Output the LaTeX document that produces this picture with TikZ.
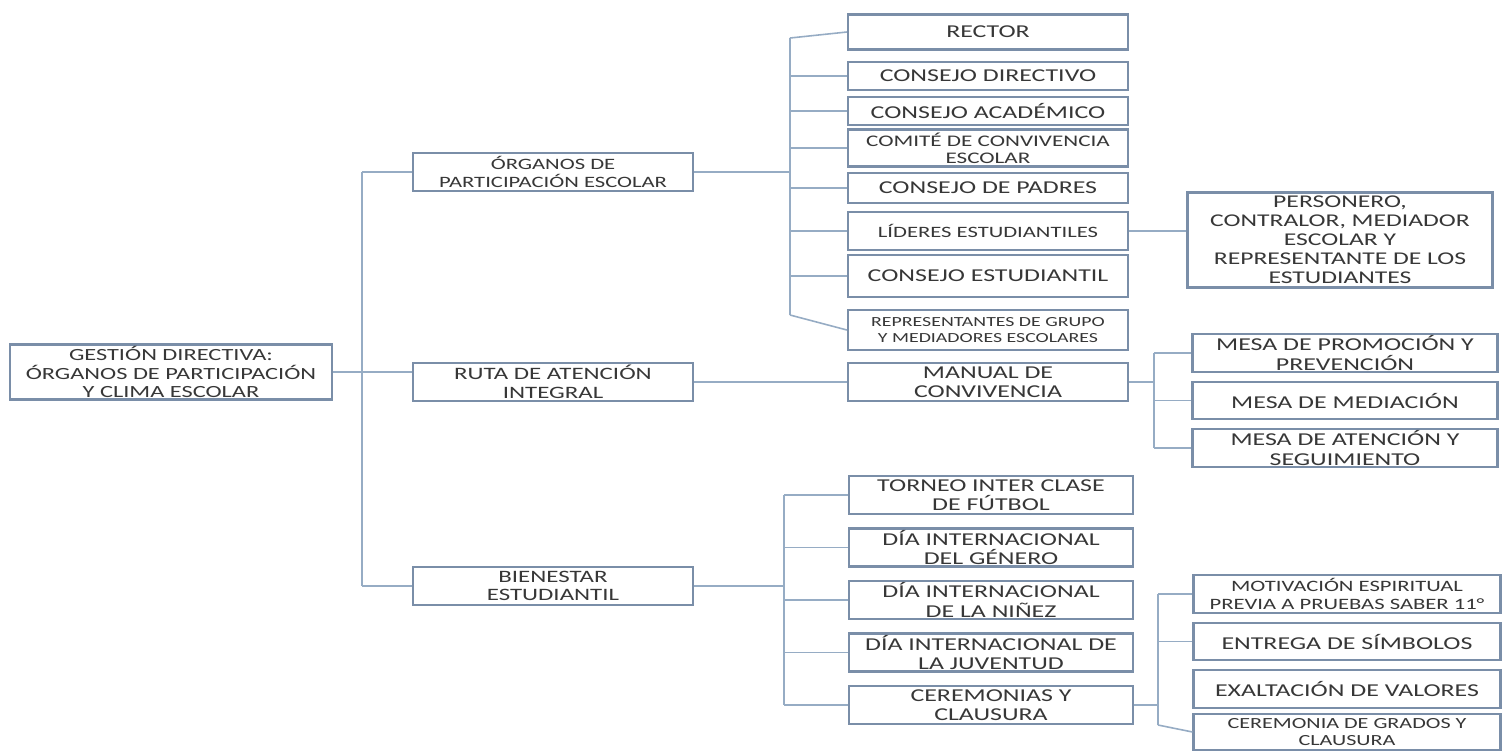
\documentclass[tikz,border=0pt]{standalone}
\usepackage{fontspec}
\setmainfont{Carlito}[FakeStretch=1.43]
\usepackage{tikz}
\definecolor{boxline}{RGB}{122,142,168}
\definecolor{linkline}{RGB}{150,172,196}
\definecolor{boxtext}{RGB}{55,55,55}

\begin{document}
\begin{tikzpicture}[x=0.02cm, y=-0.02cm,
		box/.style={draw=boxline, line width=1.3pt, fill=white, text=boxtext,
		align=center, inner sep=1pt, font=\fontsize{10.3}{11}\selectfont},
		midbox/.style={box, minimum width=5.6cm, minimum height=0.76cm},
		widebox/.style={box, minimum width=6.1cm, minimum height=0.75cm},
		smallfont/.style={font=\fontsize{9}{10}\selectfont},
		tinyfont/.style={font=\fontsize{7.9}{8.8}\selectfont},
		link/.style={draw=linkline, line width=0.9pt}
		]
		\useasboundingbox[fill=white] (0,0) rectangle (1506,752);

		% root and first level
		\node[box, minimum width=6.44cm, minimum height=1.1cm,
		font=\fontsize{9.7}{10.3}\selectfont](root) at (171,372)
		{GESTIÓN DIRECTIVA:\\ÓRGANOS DE PARTICIPACIÓN\\Y CLIMA ESCOLAR};
		\node[midbox, smallfont](org) at (553,172) {ÓRGANOS DE\\PARTICIPACIÓN ESCOLAR};
		\node[midbox, font=\fontsize{9.9}{10.6}\selectfont](ruta) at (553,382) {RUTA DE ATENCIÓN\\INTEGRAL};
		\node[midbox, font=\fontsize{9.9}{10.6}\selectfont](bien) at (553,586) {BIENESTAR\\ESTUDIANTIL};

		% organos
		\node[midbox, minimum height=0.7cm](rector) at (988,32) {RECTOR};
		\node[midbox, minimum height=0.56cm](directivo) at (988,76) {CONSEJO DIRECTIVO};
		\node[midbox, minimum height=0.56cm](academico) at (988,111) {CONSEJO ACADÉMICO};
		\node[midbox, minimum height=0.74cm, font=\fontsize{9.2}{9.6}\selectfont](comite) at (988,148)
		{COMITÉ DE CONVIVENCIA\\ESCOLAR};
		\node[midbox, minimum height=0.6cm](padres) at (988,188) {CONSEJO DE PADRES};
		\node[midbox, smallfont](lideres) at (988,231) {LÍDERES ESTUDIANTILES};
		\node[midbox, minimum height=0.84cm](estudiantil) at (988,276) {CONSEJO ESTUDIANTIL};
		\node[midbox, minimum height=0.8cm, tinyfont](repr) at (988,330)
		{REPRESENTANTES DE GRUPO\\Y MEDIADORES ESCOLARES};
		\node[widebox, minimum height=1.9cm, font=\fontsize{10.2}{10.8}\selectfont](personero) at (1340,240)
		{PERSONERO,\\CONTRALOR, MEDIADOR\\ESCOLAR Y\\REPRESENTANTE DE LOS\\ESTUDIANTES};

		% ruta
		\node[midbox](manual) at (988,382) {MANUAL DE\\CONVIVENCIA};
		\node[widebox, node distance=0.95cm](mesa1) at (1345,353) {MESA DE PROMOCIÓN Y\\PREVENCIÓN};
		\node[widebox, node distance=0.95cm, below of = mesa1](mesa2) {MESA DE MEDIACIÓN};
		\node[widebox, node distance=0.95cm, below of = mesa2](mesa3) {MESA DE ATENCIÓN Y\\SEGUIMIENTO};

		% bienestar
		\node[midbox, minimum width=5.68cm](torneo) at (991,495) {TORNEO INTER CLASE\\DE FÚTBOL};
		\node[midbox, minimum width=5.68cm, node distance=1.05cm, below of = torneo](genero)
		{DÍA INTERNACIONAL\\DEL GÉNERO};
		\node[midbox, minimum width=5.68cm, node distance=1.05cm, below of = genero](ninez)
		{DÍA INTERNACIONAL\\DE LA NIÑEZ};
		\node[midbox, minimum width=5.68cm, node distance=1.05cm, below of = ninez](juventud)
		{DÍA INTERNACIONAL DE\\LA JUVENTUD};
		\node[midbox, minimum width=5.68cm, node distance=1.05cm, below of = juventud](cerem)
		{CEREMONIAS Y\\CLAUSURA};
		\node[widebox, minimum width=6.14cm, smallfont](motiv) at (1347,594)
		{MOTIVACIÓN ESPIRITUAL\\PREVIA A PRUEBAS SABER 11°};
		\node[widebox, minimum width=6.14cm, node distance=0.95cm, below of = motiv](entrega)
		{ENTREGA DE SÍMBOLOS};
		\node[widebox, minimum width=6.14cm, node distance=0.95cm, below of = entrega](exalt)
		{EXALTACIÓN DE VALORES};
		\node[widebox, minimum width=6.14cm, minimum height=0.6cm, inner sep=2.5pt, node distance=0.86cm,
		below of = exalt, font=\fontsize{8.8}{9.4}\selectfont](grados)
		{CEREMONIA DE GRADOS Y\\CLAUSURA};

		% connectors
		\coordinate (trunk) at (362,372);
		\draw[link] (root.east) -- (root.east -| ruta.west);
		\draw[link] (org.west -| trunk) -- (bien.west -| trunk);
		\draw[link] (org.west -| trunk) -- (org.west);
		\draw[link] (bien.west -| trunk) -- (bien.west);

		\coordinate (b1top) at (790,38);
		\coordinate (b1bot) at (790,315);
		\draw[link] (b1top) -- (b1bot);
		\draw[link] (org.east) -- (org.east -| b1top);
		\draw[link] (b1top) -- (rector.west);
		\draw[link] (directivo.west -| b1top) -- (directivo.west);
		\draw[link] (academico.west -| b1top) -- (academico.west);
		\draw[link] (comite.west -| b1top) -- (comite.west);
		\draw[link] (padres.west -| b1top) -- (padres.west);
		\draw[link] (lideres.west -| b1top) -- (lideres.west);
		\draw[link] (estudiantil.west -| b1top) -- (estudiantil.west);
		\draw[link] (b1bot) -- (repr.west);
		\draw[link] (lideres.east) -- (lideres.east -| personero.west);

		\coordinate (b2) at (1154,382);
		\draw[link] (ruta.east) -- (manual.west);
		\draw[link] (manual.east) -- (b2);
		\draw[link] (mesa1.west -| b2) -- (mesa3.west -| b2);
		\draw[link] (mesa1.west -| b2) -- (mesa1.west);
		\draw[link] (mesa2.west -| b2) -- (mesa2.west);
		\draw[link] (mesa3.west -| b2) -- (mesa3.west);

		\coordinate (b3) at (784,586);
		\draw[link] (bien.east) -- (b3);
		\draw[link] (torneo.west -| b3) -- (cerem.west -| b3);
		\draw[link] (torneo.west -| b3) -- (torneo.west);
		\draw[link] (genero.west -| b3) -- (genero.west);
		\draw[link] (ninez.west -| b3) -- (ninez.west);
		\draw[link] (juventud.west -| b3) -- (juventud.west);
		\draw[link] (cerem.west -| b3) -- (cerem.west);

		\coordinate (b4) at (1158,705);
		\coordinate (b4bot) at (1158,725);
		\draw[link] (cerem.east) -- (b4);
		\draw[link] (motiv.west -| b4) -- (b4bot);
		\draw[link] (motiv.west -| b4) -- (motiv.west);
		\draw[link] (entrega.west -| b4) -- (entrega.west);
		\draw[link] (b4bot) -- (grados.west);
	\end{tikzpicture}
\end{document}
